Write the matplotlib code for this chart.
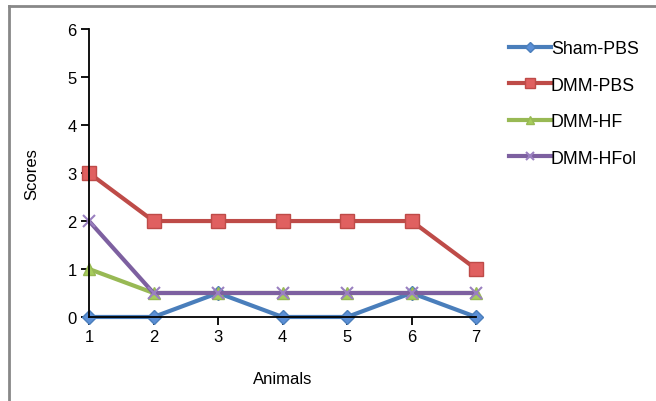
import matplotlib.pyplot as plt
from matplotlib.lines import Line2D

plt.rcParams['font.family'] = ['Liberation Sans', 'DejaVu Sans']

animals = [1, 2, 3, 4, 5, 6, 7]
sham_pbs = [0, 0, 0.5, 0, 0, 0.5, 0]
dmm_pbs = [3, 2, 2, 2, 2, 2, 1]
dmm_hf = [1, 0.5, 0.5, 0.5, 0.5, 0.5, 0.5]
dmm_hfol = [2, 0.5, 0.5, 0.5, 0.5, 0.5, 0.5]

fig = plt.figure(figsize=(6.56, 4.02), dpi=100)
ax = fig.add_axes([0.1357, 0.209, 0.59, 0.716])

ax.plot(animals, sham_pbs, color='#4A7EBB', lw=3, marker='D', ms=7.5,
        mfc='#5B8FD6', mec='#4A7EBB', label='Sham-PBS', clip_on=False)
ax.plot(animals, dmm_pbs, color='#BE4B48', lw=3, marker='s', ms=10,
        mfc='#E06060', mec='#BE4B48', label='DMM-PBS', clip_on=False)
ax.plot(animals, dmm_hf, color='#98B954', lw=3, marker='^', ms=9,
        mfc='#A6CC5C', mec='#98B954', label='DMM-HF', clip_on=False)
ax.plot(animals, dmm_hfol, color='#7D60A0', lw=3, marker='x', ms=9,
        mew=1.5, mec='#9A80C0', label='DMM-HFol', clip_on=False)

ax.set_xlim(1, 7)
ax.set_ylim(0, 6)
ax.set_xticks(animals)
ax.set_yticks(range(0, 7))
ax.spines['top'].set_visible(False)
ax.spines['right'].set_visible(False)
for side in ('left', 'bottom'):
    ax.spines[side].set_linewidth(1.3)
ax.tick_params(labelsize=12, length=6, width=1.3, pad=3)
ax.set_xlabel('Animals', fontsize=12, labelpad=19)
ax.set_ylabel('Scores', fontsize=12, labelpad=20)

fig.legend(loc='upper left', bbox_to_anchor=(0.776, 0.898), frameon=False,
           fontsize=12.8, handlelength=2.35, handletextpad=0.0,
           labelspacing=1.1, borderaxespad=0, borderpad=0, markerscale=0.7)

# chart frame: top and left edges only
fig.add_artist(Line2D([8.5 / 656, 1], [1 - 6.5 / 402] * 2,
                      transform=fig.transFigure, color='#888888', lw=2))
fig.add_artist(Line2D([8.5 / 656] * 2, [0, 1 - 6.5 / 402],
                      transform=fig.transFigure, color='#888888', lw=2))

fig.savefig('out.png', dpi=100)
